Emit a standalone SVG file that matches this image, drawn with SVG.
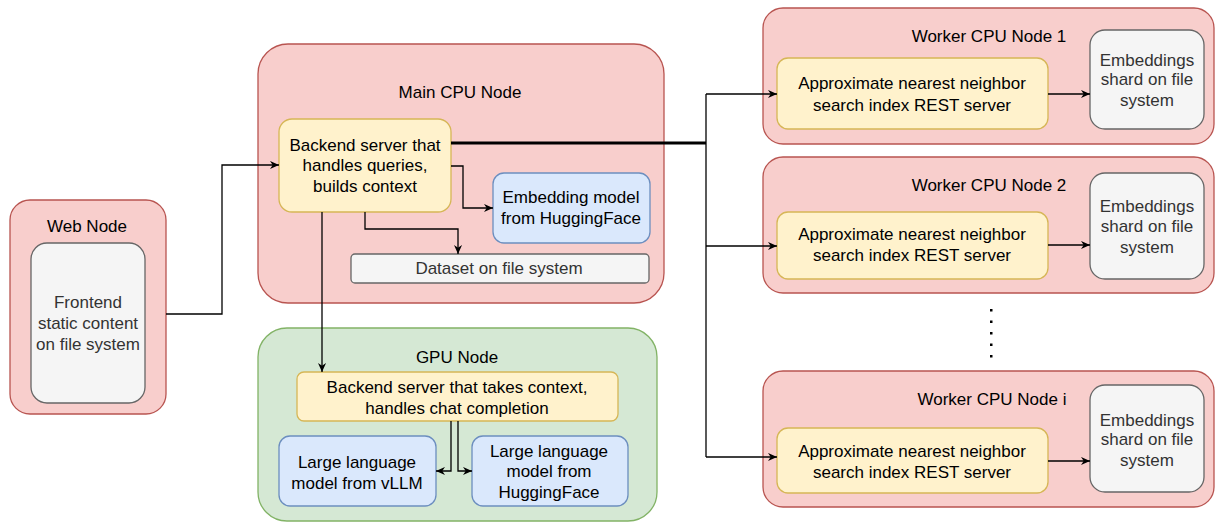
<svg xmlns="http://www.w3.org/2000/svg" width="1215" height="524" viewBox="0 0 1215 524">
<style>
text{font-family:"Liberation Sans",Arial,Helvetica,sans-serif;font-size:17px;fill:#000;text-anchor:middle}
.g text,text.g{fill:#333}
.red{fill:#f8cecc;stroke:#b85450;stroke-width:1.3}
.yel{fill:#fff2cc;stroke:#d6b656;stroke-width:1.3}
.blu{fill:#dae8fc;stroke:#6c8ebf;stroke-width:1.3}
.grn{fill:#d5e8d4;stroke:#82b366;stroke-width:1.3}
.gry{fill:#f5f5f5;stroke:#666;stroke-width:1.3}
.c{fill:none;stroke:#000;stroke-width:1.3}
.a{marker-end:url(#arr)}
</style>
<defs>
<marker id="arr" viewBox="0 0 10 10" markerWidth="10" markerHeight="9" refX="10" refY="5" orient="auto" markerUnits="userSpaceOnUse">
<path d="M0,0.5 L10,5 L0,9.5 L3,5 z" fill="#000"/>
</marker>
</defs>

<g id="web-node">
<rect class="red" x="10" y="200" width="156" height="214" rx="20"/>
<text x="87" y="232">Web Node</text>
<rect class="gry" x="31" y="243" width="114" height="160" rx="16"/>
<g class="g"><text x="88" y="308">Frontend</text><text x="88" y="329">static content</text><text x="88" y="350">on file system</text></g>
</g>

<g id="main-cpu-node">
<rect class="red" x="258" y="44" width="406" height="259" rx="30"/>
<text x="460" y="98">Main CPU Node</text>
</g>
<g id="backend-server">
<rect class="yel" x="279" y="119" width="172" height="93" rx="13"/>
<text x="365" y="151">Backend server that</text><text x="365" y="171">handles queries,</text><text x="365" y="192">builds context</text>
</g>
<g id="embedding-model">
<rect class="blu" x="493" y="173" width="157" height="70" rx="11"/>
<text x="571" y="203">Embedding model</text><text x="571" y="224">from HuggingFace</text>
</g>
<g id="dataset">
<rect class="gry" x="351" y="254" width="298" height="29" rx="4"/>
<text class="g" x="499" y="274">Dataset on file system</text>
</g>

<g id="gpu-node">
<rect class="grn" x="258" y="328" width="399" height="193" rx="29"/>
<text x="457" y="363">GPU Node</text>
</g>
<g id="gpu-backend">
<rect class="yel" x="297" y="372" width="321" height="49" rx="7"/>
<text x="457" y="393">Backend server that takes context,</text><text x="457" y="414">handles chat completion</text>
</g>
<g id="llm-vllm">
<rect class="blu" x="279" y="436" width="157" height="70" rx="11"/>
<text x="357" y="468">Large language</text><text x="357" y="489">model from vLLM</text>
</g>
<g id="llm-hf">
<rect class="blu" x="472" y="436" width="156" height="70" rx="11"/>
<text x="549" y="457">Large language</text><text x="549" y="477">model from</text><text x="549" y="498">HuggingFace</text>
</g>

<g id="worker-1">
<rect class="red" x="763" y="8" width="451" height="136" rx="20"/>
<text x="989" y="42">Worker CPU Node 1</text>
<rect class="yel" x="777" y="58" width="271" height="71" rx="11"/>
<text x="912" y="89">Approximate nearest neighbor</text><text x="912" y="111">search index REST server</text>
<rect class="gry" x="1090" y="30" width="114" height="99" rx="15"/>
<g class="g"><text x="1147" y="66">Embeddings</text><text x="1147" y="85">shard on file</text><text x="1147" y="106">system</text></g>
</g>

<g id="worker-2">
<rect class="red" x="763" y="157" width="451" height="136" rx="20"/>
<text x="989" y="191">Worker CPU Node 2</text>
<rect class="yel" x="777" y="212" width="271" height="67" rx="11"/>
<text x="912" y="240">Approximate nearest neighbor</text><text x="912" y="261">search index REST server</text>
<rect class="gry" x="1090" y="173" width="114" height="106" rx="15"/>
<g class="g"><text x="1147" y="212">Embeddings</text><text x="1147" y="232">shard on file</text><text x="1147" y="253">system</text></g>
</g>

<g id="ellipsis">
<rect x="990" y="309" width="2.5" height="2.5" fill="#000"/>
<rect x="990" y="320.5" width="2.5" height="2.5" fill="#000"/>
<rect x="990" y="332" width="2.5" height="2.5" fill="#000"/>
<rect x="990" y="343.5" width="2.5" height="2.5" fill="#000"/>
<rect x="990" y="355" width="2.5" height="2.5" fill="#000"/>
</g>

<g id="worker-i">
<rect class="red" x="763" y="371" width="451" height="136" rx="20"/>
<text x="992" y="405">Worker CPU Node i</text>
<rect class="yel" x="777" y="428" width="271" height="65" rx="11"/>
<text x="912" y="457">Approximate nearest neighbor</text><text x="912" y="478">search index REST server</text>
<rect class="gry" x="1090" y="385" width="114" height="107" rx="15"/>
<g class="g"><text x="1147" y="426">Embeddings</text><text x="1147" y="445">shard on file</text><text x="1147" y="466">system</text></g>
</g>

<g id="connectors">
<path class="c a" d="M166,314 H222 V165 H279"/>
<path class="c a" d="M451,166 H463 V208 H493"/>
<path class="c a" d="M365,212 V229 H458 V254"/>
<path class="c a" d="M322,212 V372"/>
<path class="c a" d="M451,421 V471 H436"/>
<path class="c a" d="M458,421 V471 H472"/>
<path d="M451,143 H706" fill="none" stroke="#000" stroke-width="3"/>
<path class="c" d="M706,94 V457"/>
<path class="c a" d="M706,94 H777"/>
<path class="c a" d="M706,246 H777"/>
<path class="c a" d="M706,457 H777"/>
<path class="c a" d="M1048,94 H1090"/>
<path class="c a" d="M1048,245 H1090"/>
<path class="c a" d="M1048,461 H1090"/>
</g>
</svg>
